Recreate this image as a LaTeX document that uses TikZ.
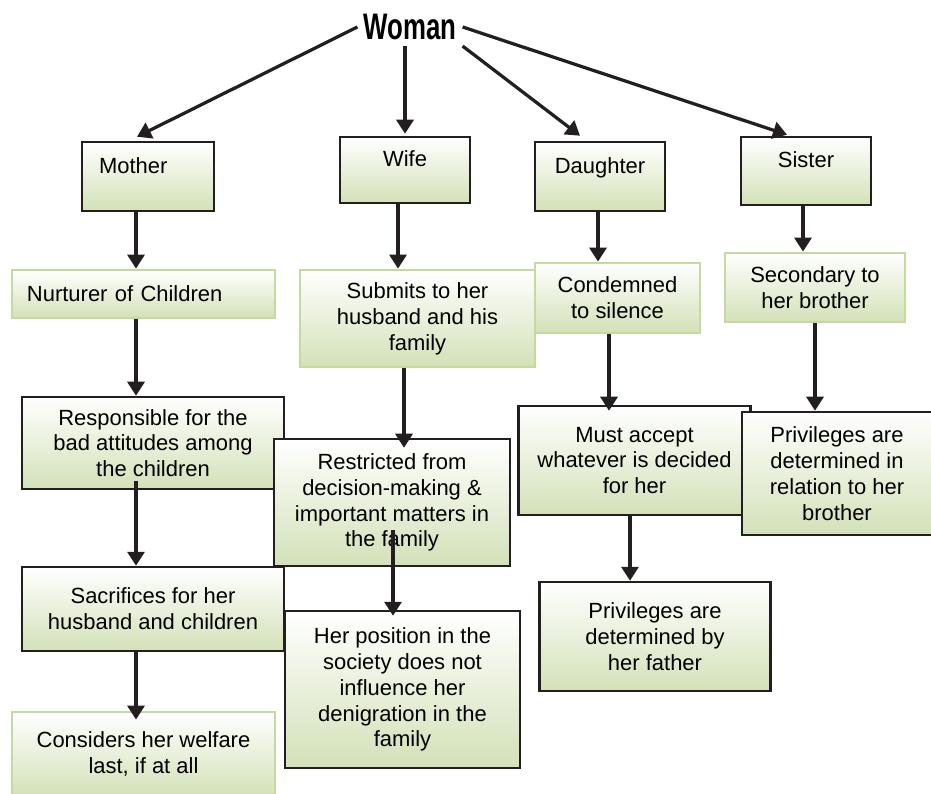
\documentclass[tikz,border=0pt]{standalone}
\usepackage{fontspec}
\setmainfont{Liberation Sans}
\usepackage{graphicx}
\usetikzlibrary{arrows.meta,positioning,calc}

\definecolor{boxline}{HTML}{231F20}
\definecolor{boxgreen}{HTML}{D3E1B8}
\definecolor{boxedge}{HTML}{C5D9A0}

\begin{document}
\begin{tikzpicture}[x=0.2mm, y=-0.2mm,
    dbox/.style={draw=boxline, line width=0.5mm, top color=white, bottom color=boxgreen,
        align=center, inner sep=0pt, font=\fontsize{12.5}{14.7}\selectfont},
    gbox/.style={dbox, draw=boxedge, line width=0.55mm},
    rolebox/.style={dbox, text height=9pt, text depth=12.5pt},
    arr/.style={-{Triangle[length=2.8mm,width=3.4mm]}, line width=0.65mm, draw=boxline}]
    \useasboundingbox (0,0) rectangle (931,794);

    % Title
    \node (woman) at (410,27) {\scalebox{0.7}[1]{\fontsize{21}{24}\selectfont\bfseries Woman}};

    % Roles
    \node[rolebox, minimum width=26.4mm, minimum height=13.8mm, text width=19.6mm, inner xsep=3.4mm, align=left] (mother) at (148,176.5) {Mother};
    \node[rolebox, minimum width=26mm, minimum height=13.2mm] (wife) at (405,170) {Wife};
    \node[rolebox, minimum width=26mm, minimum height=13.8mm] (daughter) at (600,176.5) {Daughter};
    \node[rolebox, minimum width=26mm, minimum height=13.6mm] (sister) at (806,171) {Sister};

    % Second row
    \node[gbox, minimum width=52.6mm, minimum height=9.6mm, text width=46.6mm, inner xsep=3mm, align=left] (nurturer) at (143.5,294) {Nurturer of Children};
    \node[gbox, minimum width=47mm, minimum height=19.4mm] (submits) at (417.5,318.5) {Submits to her\\husband and his\\family};
    \node[gbox, minimum width=33mm, minimum height=14mm] (condemned) at (617.5,298) {Condemned\\to silence};
    \node[gbox, minimum width=36mm, minimum height=13.8mm] (secondary) at (815,287.5) {Secondary to\\her brother};

    % Third row
    \node[dbox, minimum width=52.4mm, minimum height=18.4mm] (responsible) at (153,443) {Responsible for the\\bad attitudes among\\the children};
    \node[dbox, minimum width=47.2mm, minimum height=25.4mm] (restricted) at (392,502.5) {Restricted from\\decision-making \&\\important matters in\\the family};
    \node[dbox, minimum width=46.4mm, minimum height=21.8mm] (mustaccept) at (634.5,460.5) {Must accept\\whatever is decided\\for her};
    \node[dbox, minimum width=38mm, minimum height=24.6mm] (privbrother) at (837,473.5) {Privileges are\\determined in\\relation to her\\brother};

    % Fourth row
    \node[dbox, minimum width=52.4mm, minimum height=16.8mm] (sacrifices) at (153,609) {Sacrifices for her\\husband and children};
    \node[dbox, minimum width=47mm, minimum height=31.4mm] (position) at (402.5,689.5) {Her position in the\\society does not\\influence her\\denigration in the\\family};
    \node[dbox, minimum width=46.2mm, minimum height=21.8mm] (privfather) at (655,636.5) {Privileges are\\determined by\\her father};
    \node[gbox, minimum width=52.6mm, minimum height=16.8mm] (considers) at (143.5,754) {Considers her welfare\\last, if at all};

    % Arrows from the title
    \draw[arr] (woman.west) -- ($(mother.north)+(-11,-4)$);
    \draw[arr] (woman.south -| wife.north) -- ($(wife.north)+(0,-2)$);
    \draw[arr] (woman.south east) -- ($(daughter.north)+(-20,-5)$);
    \draw[arr] (woman.east) -- ($(sister.north)+(-19,-1)$);

    % Arrows down the columns
    \draw[arr] ($(mother.south)+(-12,0)$) -- ($(nurturer.north)+(-7.5,0)$);
    \draw[arr] ($(wife.south)+(-7,0)$) -- ($(submits.north)+(-19.5,0)$);
    \draw[arr] ($(daughter.south)+(-2,0)$) -- ($(condemned.north)+(-19.5,0)$);
    \draw[arr] ($(sister.south)+(-3,0)$) -- ($(secondary.north)+(-12,0)$);

    \draw[arr] ($(nurturer.south)+(-7.5,0)$) -- ($(responsible.north)+(-17,0)$);
    \draw[arr] ($(submits.south)+(-13.5,0)$) -- ($(restricted.north)+(12,10)$);
    \draw[arr] ($(condemned.south)+(-8.5,0)$) -- ($(mustaccept.north)+(-25.5,6)$);
    \draw[arr] ($(secondary.south)+(0,0)$) -- ($(privbrother.north)+(-22,0)$);

    \draw[arr] ($(responsible.south)+(-17,-9)$) -- ($(sacrifices.north)+(-17,0)$);
    \draw[arr] ($(restricted.south)+(1,-37)$) -- ($(position.north)+(-9.5,6)$);
    \draw[arr] ($(mustaccept.south)+(-4.5,0)$) -- ($(privfather.north)+(-25,0)$);
    \draw[arr] ($(sacrifices.south)+(-17,0)$) -- ($(considers.north)+(-7.5,9)$);
\end{tikzpicture}
\end{document}
